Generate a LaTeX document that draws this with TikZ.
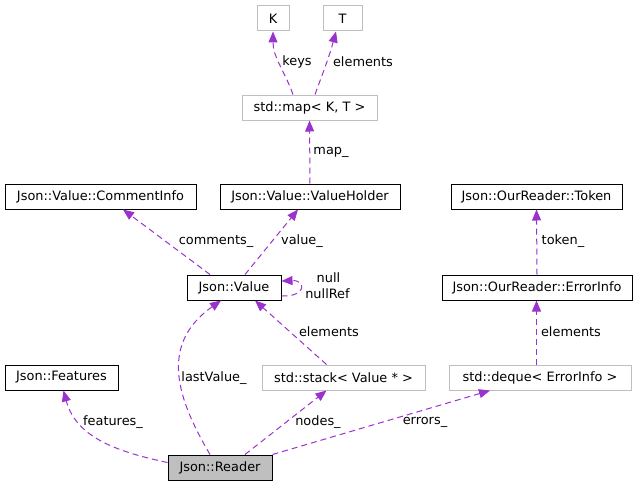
\documentclass[tikz,border=0pt]{standalone}
\usepackage{fontspec}
\setmainfont{DejaVu Sans}
\usetikzlibrary{arrows.meta}
\definecolor{relcol}{HTML}{9A32CD}
\definecolor{extcol}{HTML}{BFBFBF}
\begin{document}
\begin{tikzpicture}[x=1pt,y=-1pt,font=\fontsize{12.9}{15}\selectfont,
  cls/.style={draw,line width=1pt,minimum height=25pt,inner sep=0pt},
  ext/.style={cls,draw=extcol},
  rel/.style={draw=relcol,line width=1pt,dash pattern=on 6pt off 4pt,-{Triangle[length=11pt,width=9pt,fill=relcol]}},
  lbl/.style={inner sep=0pt}]
\useasboundingbox(0,0)rectangle(637,487);
% classes
\foreach \nm/\x/\y/\w/\txt in {commentinfo/100.5/196.5/191/{Json::Value::CommentInfo},valueholder/310/196.5/180/{Json::Value::ValueHolder},token/536.5/196.5/171/{Json::OurReader::Token},value/234/287.5/94/{Json::Value},errorinfo/537/287.5/190/{Json::OurReader::ErrorInfo},features/61.5/377.5/113/{Json::Features}}{\node[cls,minimum width=\w pt](\nm)at(\x,\y){\txt};}
% templates
\foreach \nm/\x/\y/\w/\txt in {K/273/18.5/32/K,T/342.5/18.5/39/T,kmap/309.5/107.5/135/{std::map< K, T >},stack/343.5/377.5/163/{std::stack< Value * >},deque/540/377.5/182/{std::deque< ErrorInfo >}}{\node[ext,minimum width=\w pt](\nm)at(\x,\y){\txt};}
\node[cls,fill=extcol,minimum width=104pt](reader)at(220,467.5){Json::Reader};
% members
\draw[rel]([xshift=-16.5pt]kmap.north)to[out=110,in=-90](K.south);
\draw[rel]([xshift=5.5pt]kmap.north)to[out=70,in=-105]([xshift=-6.5pt]T.south);
\draw[rel](valueholder)--(kmap);
\draw[rel]([xshift=-24pt]value.north)--([xshift=22.5pt]commentinfo.south);
\draw[rel]([xshift=11pt]value.north)--([xshift=-12pt]valueholder.south);
\draw[rel]([yshift=-8.5pt]value.east)..controls +(25,1) and +(25,-1)..([yshift=6.5pt]value.east);
\draw[rel](errorinfo.north)--(token.south);
\draw[rel]([xshift=-3.5pt]deque.north)--([xshift=-0.5pt]errorinfo.south);
\draw[rel]([xshift=-17pt]stack.north)--([xshift=21pt]value.south);
\draw[rel]([yshift=5pt]reader.west)to[out=168,in=-75]([xshift=2pt]features.south);
\draw[rel]([xshift=-10pt]reader.north)..controls(178,400)and(158,345)..([xshift=-13pt]value.south);
\draw[rel]([xshift=25pt]reader.north)--([xshift=-17pt]stack.south);
\draw[rel](reader.north east)--([xshift=-50pt]deque.south);
% labels
\foreach \nm/\x/\y/\txt in {lkeys/297/62/keys,lelem/363/62/elements,lmap/331/152/map\_,lcom/216/241/comments\_,lval/302/241/value\_,ltok/563/241/token\_,lnull/328.5/278/null,lnullref/327.5/294/nullRef,lselem/329/332/elements,ldelem/571/332/elements,lfeat/113/422/features\_,llast/214/378/lastValue\_,lnodes/318/422/nodes\_,lerr/425/422/errors\_}{\node[lbl](\nm)at(\x,\y){\txt};}
\end{tikzpicture}
\end{document}
